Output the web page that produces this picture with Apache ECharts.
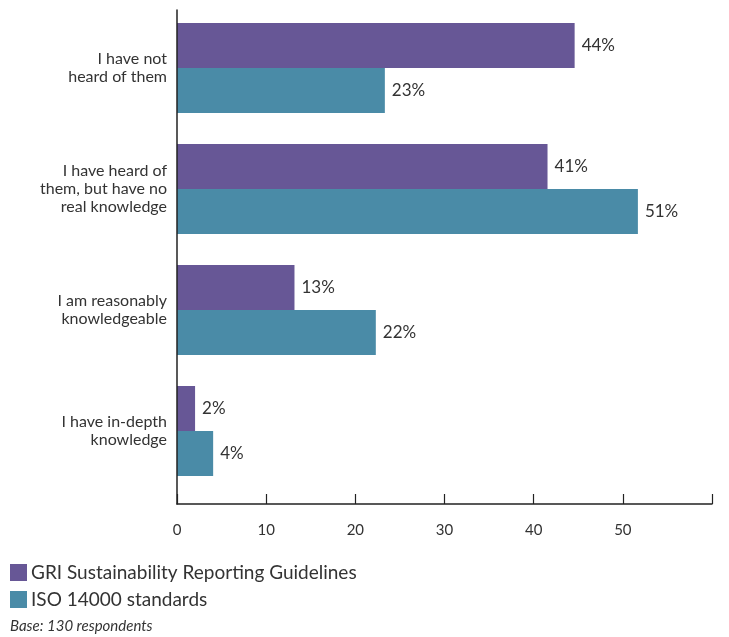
<!DOCTYPE html>
<html>
<head>
<meta charset="utf-8">
<script src="https://cdn.jsdelivr.net/npm/echarts@6/dist/echarts.min.js"></script>
<style>
html,body{margin:0;padding:0;background:#fff;}
#chart{width:729px;height:637px;}
</style>
</head>
<body>
<div id="chart"></div>
<script>
const categories = [
  "I have not\nheard of them",
  "I have heard of\nthem, but have no\nreal knowledge",
  "I am reasonably\nknowledgeable",
  "I have in-depth\nknowledge"
];
const seriesNames = ["GRI Sustainability Reporting Guidelines", "ISO 14000 standards"];
const griValues = [44, 41, 13, 2];
const isoValues = [23, 51, 22, 4];
const xTicks = [0, 10, 20, 30, 40, 50];
const footnote = "Base: 130 respondents";

const FONT = "Lato, 'Open Sans', sans-serif";
const chart = echarts.init(document.getElementById('chart'), null, {renderer: 'canvas'});
const labelStyle = {
  show: true, position: 'right', distance: 7,
  formatter: p => p.value + '%',
  fontFamily: FONT, fontSize: 17, color: '#333'
};
chart.setOption({
  animation: false,
  textStyle: {fontFamily: FONT},
  grid: [
    {left: 177, right: 17, top: 7.5, height: 484, containLabel: false},
    {left: 177, right: 17, top: 10, height: 494, containLabel: false}
  ],
  xAxis: [
    {gridIndex: 0, type: 'value', min: 0, max: 59.2, show: false},
    {gridIndex: 1, type: 'value', min: 0, max: 60, interval: 10, z: 10,
     axisLine: {show: true, lineStyle: {color: '#222', width: 1.5}},
     axisTick: {show: true, inside: true, length: 10, lineStyle: {color: '#222', width: 1.2}},
     splitLine: {show: false},
     axisLabel: {margin: 19, fontFamily: FONT, fontSize: 15, color: '#333',
       formatter: v => xTicks.indexOf(v) >= 0 ? String(v) : ''}}
  ],
  yAxis: [
    {gridIndex: 0, type: 'category', data: categories, inverse: true,
     axisLine: {show: false}, axisTick: {show: false},
     axisLabel: {margin: 10, fontFamily: FONT, fontSize: 16, color: '#333', lineHeight: 18, align: 'right'}},
    {gridIndex: 1, type: 'category', data: categories, inverse: true, z: 10,
     axisLine: {show: true, lineStyle: {color: '#222', width: 1.5}},
     axisTick: {show: false}, axisLabel: {show: false}}
  ],
  legend: {
    orient: 'vertical', left: 10, top: 563, padding: 0, itemWidth: 17, itemHeight: 17, itemGap: 8,
    icon: 'rect', textStyle: {fontFamily: FONT, fontSize: 19, color: '#333', padding: [0,0,0,-1]},
    data: seriesNames
  },
  title: {
    text: footnote, left: 10, top: 619, padding: 0,
    textStyle: {fontFamily: FONT, fontSize: 15, fontStyle: 'italic', fontWeight: 'normal', color: '#333'}
  },
  series: [
    {name: seriesNames[0], type: 'bar', xAxisIndex: 0, yAxisIndex: 0, data: griValues,
     barWidth: 45, barGap: '0%', itemStyle: {color: '#675796'}, label: labelStyle},
    {name: seriesNames[1], type: 'bar', xAxisIndex: 0, yAxisIndex: 0, data: isoValues,
     barWidth: 45, barGap: '0%', itemStyle: {color: '#4a8ba7'}, label: labelStyle}
  ]
});
</script>
</body>
</html>
